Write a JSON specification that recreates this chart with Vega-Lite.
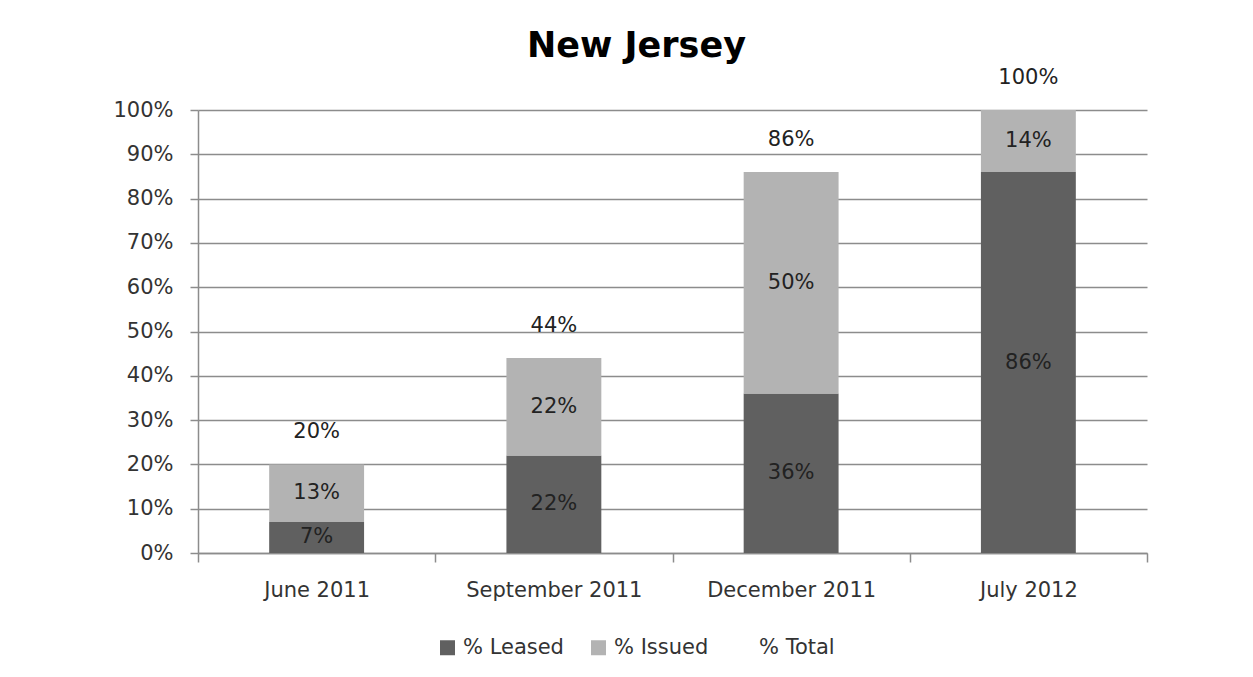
{
  "$schema": "https://vega.github.io/schema/vega-lite/v6.json",
  "width": 949,
  "height": 443,
  "autosize": "none",
  "padding": {"left": 198, "top": 110, "right": 106, "bottom": 124},
  "background": "white",
  "title": {
    "text": "New Jersey",
    "font": "DejaVu Sans",
    "fontSize": 35,
    "fontWeight": "bold",
    "color": "#000000",
    "anchor": "middle",
    "dx": -36,
    "offset": 3
  },
  "config": {
    "view": {"stroke": null},
    "font": "DejaVu Sans"
  },
  "data": {
    "values": [
      {"month": "June 2011", "series": "% Leased", "value": 0.07},
      {"month": "June 2011", "series": "% Issued", "value": 0.13},
      {"month": "September 2011", "series": "% Leased", "value": 0.22},
      {"month": "September 2011", "series": "% Issued", "value": 0.22},
      {"month": "December 2011", "series": "% Leased", "value": 0.36},
      {"month": "December 2011", "series": "% Issued", "value": 0.50},
      {"month": "July 2012", "series": "% Leased", "value": 0.86},
      {"month": "July 2012", "series": "% Issued", "value": 0.14}
    ]
  },
  "encoding": {
    "x": {
      "field": "month",
      "type": "nominal",
      "sort": null,
      "scale": {"paddingInner": 0, "paddingOuter": 0},
      "axis": {
        "title": null,
        "labelAngle": 0,
        "tickBand": "extent",
        "tickSize": 9,
        "labelPadding": 17,
        "labelFont": "DejaVu Sans",
        "labelFontSize": 21,
        "labelColor": "#333333",
        "domainColor": "#8c8c8c",
        "tickColor": "#8c8c8c",
        "domainWidth": 1.5,
        "tickWidth": 1.5,
        "grid": false
      }
    }
  },
  "layer": [
    {
      "mark": {"type": "bar", "width": {"band": 0.4}},
      "encoding": {
        "y": {
          "field": "value",
          "type": "quantitative",
          "stack": "zero",
          "scale": {"domain": [0, 1], "nice": false},
          "axis": {
            "title": null,
            "values": [0, 0.1, 0.2, 0.3, 0.4, 0.5, 0.6, 0.7, 0.8, 0.9, 1],
            "format": ".0%",
            "grid": true,
            "gridColor": "#8c8c8c",
            "gridWidth": 1.5,
            "domainColor": "#8c8c8c",
            "domainWidth": 1.5,
            "tickColor": "#8c8c8c",
            "tickWidth": 1.5,
            "tickSize": 8,
            "labelPadding": 17,
            "labelFont": "DejaVu Sans",
            "labelFontSize": 21,
            "labelColor": "#333333"
          }
        },
        "color": {
          "field": "series",
          "type": "nominal",
          "scale": {
            "domain": ["% Leased", "% Issued", "% Total"],
            "range": ["#606060", "#b3b3b3", "rgba(0,0,0,0)"]
          },
          "legend": {
            "title": null,
            "orient": "none",
            "direction": "horizontal",
            "legendX": 239,
            "legendY": 527,
            "symbolType": "square",
            "symbolSize": 225,
            "symbolStrokeWidth": 0,
            "symbolOpacity": 1,
            "labelFont": "DejaVu Sans",
            "labelFontSize": 21,
            "labelColor": "#333333",
            "labelOffset": 5,
            "columnPadding": 24,
            "padding": 0
          }
        },
        "order": {"field": "series", "sort": "descending"}
      }
    },
    {
      "mark": {"type": "text", "baseline": "middle", "align": "center", "font": "DejaVu Sans", "fontSize": 21, "color": "#222222"},
      "encoding": {
        "y": {"field": "value", "type": "quantitative", "stack": "zero", "bandPosition": 0.5},
        "detail": {"field": "series"},
        "order": {"field": "series", "sort": "descending"},
        "text": {"field": "value", "type": "quantitative", "format": ".0%"}
      }
    },
    {
      "transform": [
        {"aggregate": [{"op": "sum", "field": "value", "as": "total"}], "groupby": ["month"]}
      ],
      "mark": {"type": "text", "baseline": "middle", "align": "center", "dy": -32, "font": "DejaVu Sans", "fontSize": 21, "color": "#222222"},
      "encoding": {
        "y": {"field": "total", "type": "quantitative"},
        "text": {"field": "total", "type": "quantitative", "format": ".0%"}
      }
    }
  ]
}
